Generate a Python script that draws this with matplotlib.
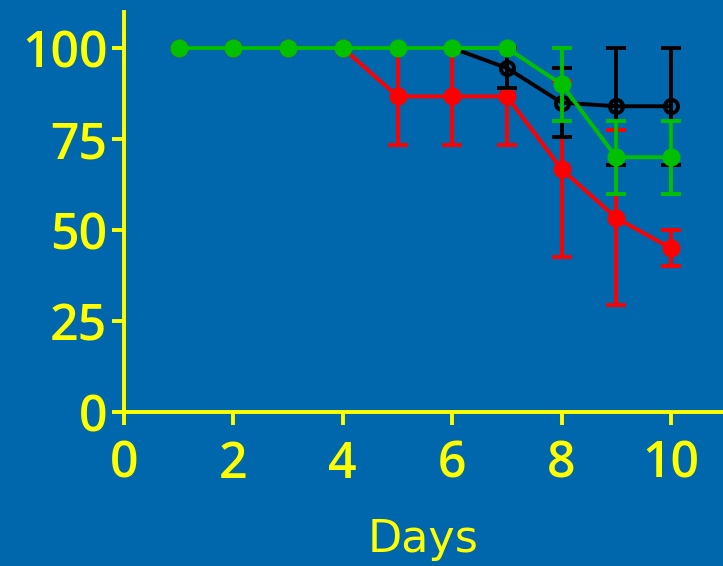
import matplotlib.pyplot as plt
import numpy as np

days = np.arange(1, 11)

red_mean = [100, 100, 100, 100, 86.7, 86.7, 86.7, 66.7, 53.3, 45]
red_lo = [100, 100, 100, 100, 73.3, 73.3, 73.3, 42.5, 29.5, 40]
red_hi = [100, 100, 100, 100, 100, 100, 100, 91, 77.5, 50]

black_mean = [100, 100, 100, 100, 100, 100, 94.5, 85, 84, 84]
black_lo = [100, 100, 100, 100, 100, 100, 89, 75.5, 68, 68]
black_hi = [100, 100, 100, 100, 100, 100, 100, 94.5, 100, 100]

green_mean = [100, 100, 100, 100, 100, 100, 100, 90, 70, 70]
green_lo = [100, 100, 100, 100, 100, 100, 100, 80, 60, 60]
green_hi = [100, 100, 100, 100, 100, 100, 100, 100, 80, 80]

bg = "#0067ad"
yellow = "#ffff00"
lw = 2.8

fig = plt.figure(figsize=(7.23, 5.66), dpi=100, facecolor=bg)
ax = fig.add_axes([0.1715, 0.272, 0.8285, 0.7075])
ax.set_facecolor(bg)


def draw(mean, lo, hi, color, filled, z):
    mean = np.array(mean)
    lo = np.array(lo)
    hi = np.array(hi)
    m = hi > lo
    ax.errorbar(days[m], mean[m], yerr=[mean[m] - lo[m], hi[m] - mean[m]],
                fmt="none", ecolor=color, elinewidth=lw, capsize=7,
                capthick=lw, zorder=z)
    if filled:
        ax.plot(days, mean, color=color, lw=lw, marker="o", ms=13,
                mfc=color, mew=0, zorder=z + 0.5, clip_on=False)
    else:
        ax.plot(days, mean, color=color, lw=lw, marker="o", ms=9.5,
                mfc="none", mec=color, mew=lw, zorder=z + 0.5, clip_on=False)


draw(red_mean, red_lo, red_hi, "#ff0000", True, 3)
draw(black_mean, black_lo, black_hi, "#000000", False, 4)
draw(green_mean, green_lo, green_hi, "#00c000", True, 5)

ax.set_xlim(0, 10.95)
ax.set_ylim(0, 110)
ax.set_xticks([0, 2, 4, 6, 8, 10])
ax.set_yticks([0, 25, 50, 75, 100])

for s in ["top", "right"]:
    ax.spines[s].set_visible(False)
for s in ["left", "bottom"]:
    ax.spines[s].set_color(yellow)
    ax.spines[s].set_linewidth(lw)

ax.tick_params(colors=yellow, width=lw, length=9)
ax.tick_params(axis="x", pad=11)
ax.tick_params(axis="y", pad=3)
for t in ax.get_xticklabels() + ax.get_yticklabels():
    t.set_fontfamily("Open Sans")
    t.set_fontweight("semibold")
    t.set_fontsize(36)
ax.set_xlabel("Days", color=yellow, fontsize=32, labelpad=20,
              fontfamily="DejaVu Sans")

fig.savefig("out.png", dpi=100, facecolor=bg)
